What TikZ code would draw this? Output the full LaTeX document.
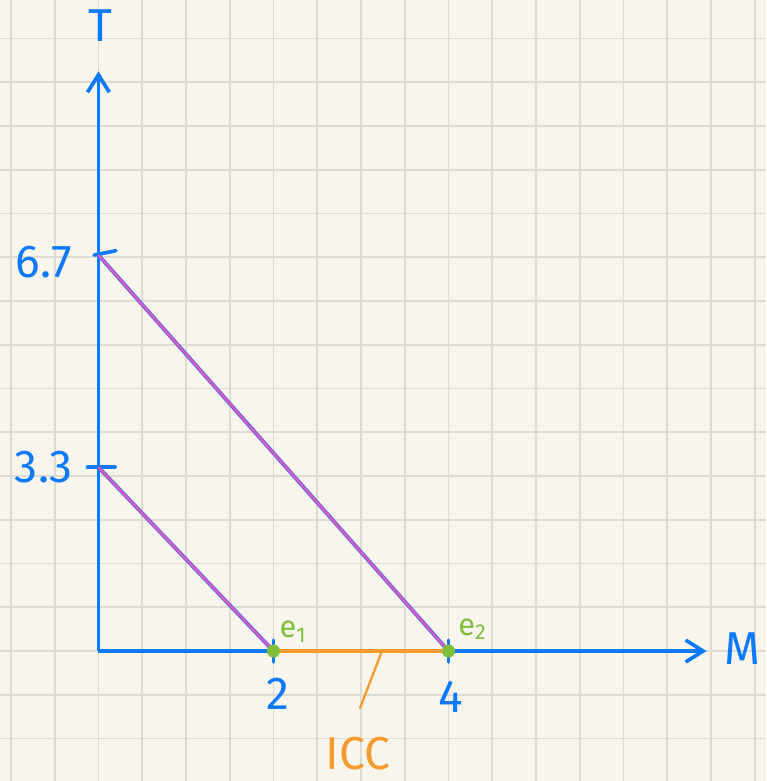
\documentclass[tikz,border=0pt]{standalone}
\usepackage{fontspec}
\setmainfont{Fira Sans}
\usetikzlibrary{arrows.meta,positioning,backgrounds}
\definecolor{paper}{RGB}{248,246,236}
\definecolor{gridc}{RGB}{222,220,208}
\definecolor{axblue}{RGB}{12,122,250}
\definecolor{lnpink}{RGB}{232,92,190}
\definecolor{lnedge}{RGB}{105,100,225}
\definecolor{eqgreen}{RGB}{128,190,62}
\definecolor{iccor}{RGB}{245,155,45}
\tikzset{
  ax/.style   ={draw=axblue,line width=2.4pt,
                -{Straight Barb[length=4mm,width=5mm,line width=2.4pt]}},
  tck/.style  ={draw=axblue,line width=2.4pt,line cap=round},
  bl/.style   ={draw=lnedge,line width=0.7pt,double=lnpink,double distance=1.1pt},
  lbl/.style  ={text=axblue,font=\fontsize{30}{32}\selectfont,inner sep=1pt},
  eqlbl/.style={text=eqgreen,font=\fontsize{20}{22}\selectfont,inner sep=1pt},
  iccl/.style ={text=iccor,font=\fontsize{30}{32}\selectfont,inner sep=1pt},
  icc/.style  ={draw=iccor,line width=2.6pt,line cap=round},
  dot/.style  ={circle,fill=eqgreen,inner sep=0pt,minimum size=3mm},
  gl/.style   ={draw=gridc,line width=1.2pt},
}

\begin{document}
\begin{tikzpicture}
\useasboundingbox[fill=paper] (-2.25,-2.97) rectangle (15.26,14.88);
% grid paper
\foreach \i in {-2,...,15} \draw[gl] (\i,-2.97) -- (\i,14.88);
\foreach \j in {-2,...,14} \draw[gl] (-2.25,\j) -- (15.26,\j);
% axes
\coordinate (O) at (0,0);
\coordinate (Ytop) at (0,13.25);
\coordinate (Xend) at (13.9,0);
\draw[ax] (O) -- (Ytop);
\draw[ax] (O) -- (Xend);
\node[lbl] (T) at (0.05,14.3) {T};
\node[lbl,anchor=west,inner sep=0pt] (M) at (14.3,0.05) {M};
% intercepts
\coordinate (a1) at (0,9.05);
\coordinate (a2) at (0,4.2);
\coordinate (e1) at (4,0);
\coordinate (e2) at (8,0);
\draw[tck] (-0.1,9.05) -- (0.4,9.15);
\draw[tck] (-0.25,4.2) -- (0.38,4.2);
\draw[tck] (4,-0.25) -- (4,0.25);
\draw[tck] (8,-0.25) -- (8,0.25);
\node[lbl] (v67) at (-1.25,8.9) {6.7};
\node[lbl] (v33) at (-1.25,4.2) {3.3};
\node[lbl] (h2) at (4.1,-0.98) {2};
\node[lbl] (h4) at (8.05,-1.05) {4};
% budget lines
\draw[bl] (a1) -- (e2);
\draw[bl] (a2) -- (e1);
% income consumption curve
\draw[icc] (e1) -- (e2);
\node[dot] (d1) at (e1) {};
\node[dot] (d2) at (e2) {};
\node[eqlbl] (l1) at (4.45,0.45) {e\textsubscript{1}};
\node[eqlbl] (l2) at (8.55,0.5) {e\textsubscript{2}};
\coordinate (icp) at (6.48,0);
\coordinate (icq) at (5.98,-1.3);
\draw[draw=iccor,line width=1.5pt,line cap=round] (icp) -- (icq);
\node[iccl] (ICC) at (5.93,-2.35) {ICC};
\end{tikzpicture}
\end{document}
